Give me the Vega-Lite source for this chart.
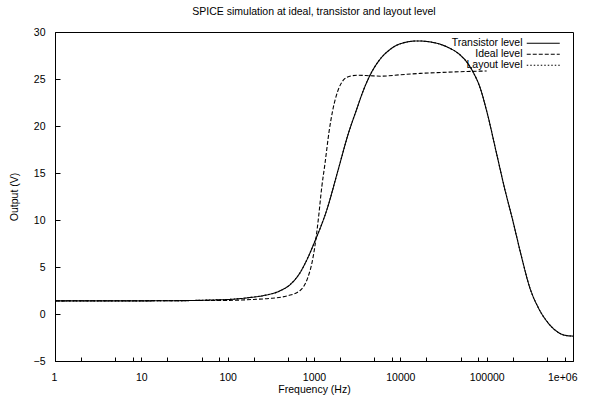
{
  "$schema": "https://vega.github.io/schema/vega-lite/v6.json",
  "width": 518,
  "height": 329,
  "autosize": {"type": "none"},
  "padding": {"left": 55, "top": 32, "right": 16, "bottom": 38},
  "title": {"text": "SPICE simulation at ideal, transistor and layout level", "fontSize": 10.5, "font": "Liberation Sans", "fontWeight": "normal", "color": "black", "offset": 10, "anchor": "middle"},
  "config": {
    "view": {"stroke": "black", "strokeWidth": 1},
    "font": "Liberation Sans"
  },
  "data": {"values": [
    {"series": "Transistor level", "freq": 1, "value": 1.4},
    {"series": "Transistor level", "freq": 10, "value": 1.4},
    {"series": "Transistor level", "freq": 30, "value": 1.42},
    {"series": "Transistor level", "freq": 60, "value": 1.48},
    {"series": "Transistor level", "freq": 106, "value": 1.55},
    {"series": "Transistor level", "freq": 180, "value": 1.75},
    {"series": "Transistor level", "freq": 257, "value": 1.95},
    {"series": "Transistor level", "freq": 400, "value": 2.45},
    {"series": "Transistor level", "freq": 525, "value": 3.1},
    {"series": "Transistor level", "freq": 690, "value": 4.4},
    {"series": "Transistor level", "freq": 850, "value": 6.0},
    {"series": "Transistor level", "freq": 1020, "value": 7.7},
    {"series": "Transistor level", "freq": 1410, "value": 11.1},
    {"series": "Transistor level", "freq": 1900, "value": 15.3},
    {"series": "Transistor level", "freq": 2500, "value": 19.2},
    {"series": "Transistor level", "freq": 3100, "value": 21.7},
    {"series": "Transistor level", "freq": 3700, "value": 23.7},
    {"series": "Transistor level", "freq": 4400, "value": 25.3},
    {"series": "Transistor level", "freq": 5500, "value": 26.8},
    {"series": "Transistor level", "freq": 7500, "value": 28.1},
    {"series": "Transistor level", "freq": 10000, "value": 28.75},
    {"series": "Transistor level", "freq": 15800, "value": 29.05},
    {"series": "Transistor level", "freq": 25000, "value": 28.85},
    {"series": "Transistor level", "freq": 35000, "value": 28.4},
    {"series": "Transistor level", "freq": 50000, "value": 27.5},
    {"series": "Transistor level", "freq": 60000, "value": 26.7},
    {"series": "Transistor level", "freq": 70000, "value": 25.7},
    {"series": "Transistor level", "freq": 83000, "value": 24.2},
    {"series": "Transistor level", "freq": 100000, "value": 21.6},
    {"series": "Transistor level", "freq": 130000, "value": 17.1},
    {"series": "Transistor level", "freq": 160000, "value": 13.5},
    {"series": "Transistor level", "freq": 200000, "value": 10},
    {"series": "Transistor level", "freq": 250000, "value": 6.3},
    {"series": "Transistor level", "freq": 316000, "value": 2.8},
    {"series": "Transistor level", "freq": 400000, "value": 0.6},
    {"series": "Transistor level", "freq": 500000, "value": -0.8},
    {"series": "Transistor level", "freq": 600000, "value": -1.6},
    {"series": "Transistor level", "freq": 700000, "value": -2.05},
    {"series": "Transistor level", "freq": 850000, "value": -2.3},
    {"series": "Transistor level", "freq": 1000000, "value": -2.35},
    {"series": "Ideal level", "freq": 1, "value": 1.4},
    {"series": "Ideal level", "freq": 100, "value": 1.45},
    {"series": "Ideal level", "freq": 200, "value": 1.55},
    {"series": "Ideal level", "freq": 300, "value": 1.65},
    {"series": "Ideal level", "freq": 500, "value": 1.95},
    {"series": "Ideal level", "freq": 690, "value": 2.5},
    {"series": "Ideal level", "freq": 850, "value": 3.9},
    {"series": "Ideal level", "freq": 950, "value": 5.5},
    {"series": "Ideal level", "freq": 1020, "value": 7.1},
    {"series": "Ideal level", "freq": 1120, "value": 10},
    {"series": "Ideal level", "freq": 1230, "value": 13.5},
    {"series": "Ideal level", "freq": 1340, "value": 16},
    {"series": "Ideal level", "freq": 1500, "value": 19.5},
    {"series": "Ideal level", "freq": 1650, "value": 21.7},
    {"series": "Ideal level", "freq": 1900, "value": 23.8},
    {"series": "Ideal level", "freq": 2200, "value": 24.9},
    {"series": "Ideal level", "freq": 2600, "value": 25.3},
    {"series": "Ideal level", "freq": 3200, "value": 25.4},
    {"series": "Ideal level", "freq": 4400, "value": 25.35},
    {"series": "Ideal level", "freq": 6000, "value": 25.3},
    {"series": "Ideal level", "freq": 10000, "value": 25.45},
    {"series": "Ideal level", "freq": 17000, "value": 25.6},
    {"series": "Ideal level", "freq": 30000, "value": 25.7},
    {"series": "Ideal level", "freq": 60000, "value": 25.8},
    {"series": "Ideal level", "freq": 100000, "value": 25.85},
    {"series": "Layout level", "freq": 1, "value": 1.4},
    {"series": "Layout level", "freq": 10, "value": 1.4},
    {"series": "Layout level", "freq": 30, "value": 1.42},
    {"series": "Layout level", "freq": 60, "value": 1.48},
    {"series": "Layout level", "freq": 106, "value": 1.55},
    {"series": "Layout level", "freq": 180, "value": 1.75},
    {"series": "Layout level", "freq": 257, "value": 1.95},
    {"series": "Layout level", "freq": 400, "value": 2.45},
    {"series": "Layout level", "freq": 525, "value": 3.1},
    {"series": "Layout level", "freq": 690, "value": 4.4},
    {"series": "Layout level", "freq": 850, "value": 6.0},
    {"series": "Layout level", "freq": 1020, "value": 7.7},
    {"series": "Layout level", "freq": 1410, "value": 11.1},
    {"series": "Layout level", "freq": 1900, "value": 15.3},
    {"series": "Layout level", "freq": 2500, "value": 19.2},
    {"series": "Layout level", "freq": 3100, "value": 21.7},
    {"series": "Layout level", "freq": 3700, "value": 23.7},
    {"series": "Layout level", "freq": 4400, "value": 25.3},
    {"series": "Layout level", "freq": 5500, "value": 26.8},
    {"series": "Layout level", "freq": 7500, "value": 28.1},
    {"series": "Layout level", "freq": 10000, "value": 28.75},
    {"series": "Layout level", "freq": 15800, "value": 29.05},
    {"series": "Layout level", "freq": 25000, "value": 28.85},
    {"series": "Layout level", "freq": 35000, "value": 28.4},
    {"series": "Layout level", "freq": 50000, "value": 27.5},
    {"series": "Layout level", "freq": 60000, "value": 26.7},
    {"series": "Layout level", "freq": 70000, "value": 25.7},
    {"series": "Layout level", "freq": 83000, "value": 24.2},
    {"series": "Layout level", "freq": 100000, "value": 21.6},
    {"series": "Layout level", "freq": 130000, "value": 17.1},
    {"series": "Layout level", "freq": 160000, "value": 13.5},
    {"series": "Layout level", "freq": 200000, "value": 10},
    {"series": "Layout level", "freq": 250000, "value": 6.3},
    {"series": "Layout level", "freq": 316000, "value": 2.8},
    {"series": "Layout level", "freq": 400000, "value": 0.6},
    {"series": "Layout level", "freq": 500000, "value": -0.8},
    {"series": "Layout level", "freq": 600000, "value": -1.6},
    {"series": "Layout level", "freq": 700000, "value": -2.05},
    {"series": "Layout level", "freq": 850000, "value": -2.3},
    {"series": "Layout level", "freq": 1000000, "value": -2.35}
  ]},
  "mark": {"type": "line", "color": "black", "strokeWidth": 1.1, "interpolate": "monotone"},
  "encoding": {
    "x": {"field": "freq", "type": "quantitative", "scale": {"type": "log", "domain": [1, 1000000], "nice": false},
      "axis": {"orient": "bottom", "values": [1, 2, 5, 8, 10, 20, 50, 80, 100, 200, 500, 800, 1000, 2000, 5000, 8000, 10000, 20000, 50000, 80000, 100000, 200000, 500000, 800000, 1000000], "labelExpr": "datum.value == 1000000 ? '1e+06' : (datum.value == 1 || datum.value == 10 || datum.value == 100 || datum.value == 1000 || datum.value == 10000 || datum.value == 100000) ? format(datum.value, 'd') : ''", "grid": false, "tickColor": "black", "tickWidth": 1, "tickSize": -4, "domainColor": "black", "labelPadding": 15, "labelFlush": true, "labelFlushOffset": 4, "labelOverlap": false, "labelColor": "black", "labelFont": "Liberation Sans", "labelFontSize": 10.5, "title": "Frequency (Hz)", "titleColor": "black", "titleFont": "Liberation Sans", "titleFontSize": 10.5, "titleFontWeight": "normal", "titlePadding": 2}},
    "y": {"field": "value", "type": "quantitative", "scale": {"domain": [-5, 30], "nice": false, "zero": false},
      "axis": {"orient": "left", "values": [-5, 0, 5, 10, 15, 20, 25, 30], "grid": false, "tickColor": "black", "tickWidth": 1, "tickSize": -5, "domainColor": "black", "labelPadding": 15, "labelColor": "black", "labelFont": "Liberation Sans", "labelFontSize": 10.5, "title": "Output (V)", "titleColor": "black", "titleFont": "Liberation Sans", "titleFontSize": 10.5, "titleFontWeight": "normal", "titlePadding": 14}},
    "strokeDash": {"field": "series", "type": "nominal",
      "scale": {"domain": ["Transistor level", "Ideal level", "Layout level"], "range": [[1, 0], [4, 2], [1.5, 2]]},
      "legend": {"title": null, "orient": "none", "legendX": 483, "legendY": 6, "symbolType": "M-4.125,0H4.125", "symbolSize": 64, "symbolStrokeColor": "black", "symbolStrokeWidth": 1.1, "symbolFillColor": "transparent", "labelAlign": "right", "labelOffset": -26, "labelFontSize": 10.5, "labelFont": "Liberation Sans", "labelColor": "black", "rowPadding": 0, "padding": 0, "labelLimit": 200}}
  }
}
